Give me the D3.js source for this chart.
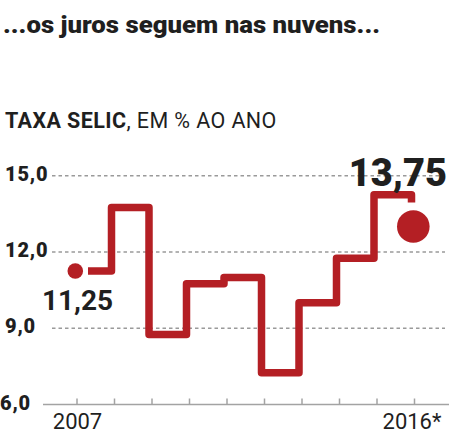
<!DOCTYPE html>
<html>
<head>
<meta charset="utf-8">
<script src="https://cdn.jsdelivr.net/npm/d3@7"></script>
<style>
  html, body { margin: 0; padding: 0; background: #fff; }
  svg { display: block; }
  text { font-family: Roboto, "Noto Sans", sans-serif; fill: #1f1f1f; }
</style>
</head>
<body>
<script>
// ---- data ----
const title = "...os juros seguem nas nuvens...";
const subtitleBold = "TAXA SELIC";
const subtitleRest = ", EM % AO ANO";
const years = [2007, 2008, 2009, 2010, 2011, 2012, 2013, 2014, 2015, 2016];
const selic = [11.25, 13.75, 8.75, 10.75, 11.00, 7.25, 10.00, 11.75, 14.25]; // 2007–2015
const stubEnd = 13.95;           // short descending stub after 2015
const forecast = 13.0;           // 2016* marker
const yTicks = [6, 9, 12, 15];
const yTickLabels = ["6,0", "9,0", "12,0", "15,0"];
const xTickLabels = { 2007: "2007", 2016: "2016*" };
const firstLabel = "11,25";
const lastLabel = "13,75";

// ---- layout ----
const W = 449, H = 436;
const red = "#b41f24";
const svg = d3.select("body").append("svg").attr("width", W).attr("height", H);

const x = d3.scaleLinear().domain([2007, 2016]).range([77, 414.5]);
const y = d3.scaleLinear().domain([6, 15]).range([404.5, 175.7]);

// title
svg.append("text").attr("x", 3).attr("y", 33)
  .style("font-size", "23px").style("font-weight", 900)
  .attr("textLength", 377).attr("lengthAdjust", "spacingAndGlyphs")
  .text(title);

// subtitle
const st = svg.append("text").attr("x", 5).attr("y", 128)
  .style("font-size", "21.5px").style("letter-spacing", "0.4px");
st.append("tspan").style("font-weight", 700).text(subtitleBold);
st.append("tspan").style("font-weight", 400).text(subtitleRest);

// gridlines
svg.append("g").selectAll("line").data(yTicks.filter(v => v > 6)).join("line")
  .attr("x1", 52).attr("x2", 445)
  .attr("y1", d => y(d)).attr("y2", d => y(d))
  .attr("stroke", "#9a9a9a").attr("stroke-width", 1.5)
  .attr("stroke-dasharray", "3.5,3");

// y labels
svg.append("g").selectAll("text").data(yTicks).join("text")
  .attr("x", d => d === 6 ? 0 : 5)
  .attr("y", d => y(d) + 5)
  .style("font-size", "20px").style("font-weight", 900)
  .style("letter-spacing", "0.8px")
  .text((d, i) => yTickLabels[i]);

// x axis
const xAxis = d3.axisBottom(x).tickValues(years).tickSize(0).tickFormat(d => xTickLabels[d] || "");
const gx = svg.append("g").attr("transform", `translate(0,${y(6)})`).call(xAxis);
gx.select(".domain").remove();
gx.selectAll("text").attr("dy", null).attr("y", 24)
  .style("font-size", "22px").style("font-weight", 400)
  .style("font-family", "Roboto, sans-serif").attr("fill", "#1f1f1f")
  .attr("dx", d => d === 2016 ? -3 : 0);
svg.append("line").attr("x1", 43).attr("x2", W)
  .attr("y1", y(6)).attr("y2", y(6)).attr("stroke", "#a3a3a3").attr("stroke-width", 1.5);
svg.append("g").selectAll("line").data(years).join("line")
  .attr("x1", d => x(d)).attr("x2", d => x(d))
  .attr("y1", y(6) - 6).attr("y2", y(6))
  .attr("stroke", "#a3a3a3").attr("stroke-width", 1.5);

// step line
const off = 3;
const pts = [[x(years[0]) + 11, y(selic[0])]];
for (let i = 1; i < selic.length; i++) {
  pts.push([x(years[i]) - off, y(selic[i - 1])]);
  pts.push([x(years[i]) - off, y(selic[i])]);
}
pts.push([x(years[9]) - off, y(selic[selic.length - 1])]);
pts.push([x(years[9]) - off, y(stubEnd)]);
svg.append("path").attr("d", d3.line()(pts))
  .attr("fill", "none").attr("stroke", red).attr("stroke-width", 7.5)
  .attr("stroke-linejoin", "round").attr("stroke-linecap", "butt");

// markers
svg.append("circle").attr("cx", x(years[0]) - 1.7).attr("cy", y(selic[0]))
  .attr("r", 7.8).attr("fill", red);
svg.append("circle").attr("cx", x(years[9]) - 1.2).attr("cy", y(forecast))
  .attr("r", 16.3).attr("fill", red);

// value labels
svg.append("text").attr("x", x(years[0]) + 0.5).attr("y", 310)
  .attr("text-anchor", "middle").style("font-size", "28px").style("font-weight", 700)
  .text(firstLabel);
svg.append("text").attr("x", 447).attr("y", 186)
  .attr("text-anchor", "end").style("font-size", "38px").style("font-weight", 900)
  .text(lastLabel);
</script>
</body>
</html>
